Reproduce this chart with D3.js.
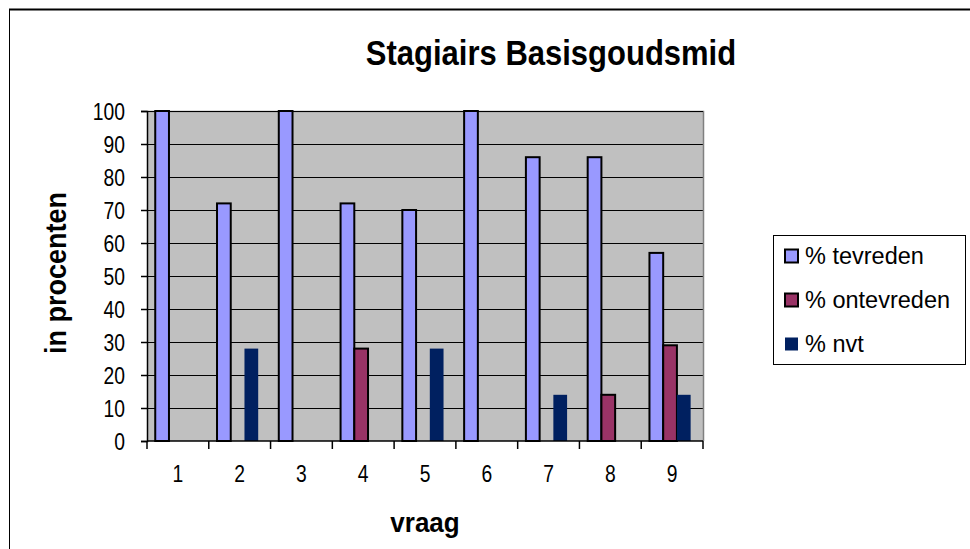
<!DOCTYPE html>
<html>
<head>
<meta charset="utf-8">
<script src="https://cdn.jsdelivr.net/npm/d3@7"></script>
<style>
  html, body { margin: 0; padding: 0; background: #fff; }
  svg { display: block; }
  text { font-family: "Liberation Sans", Arial, sans-serif; fill: #000; }
</style>
</head>
<body>
<svg id="chart" width="970" height="549"></svg>
<script>
// ---- data ----
const categories = ["1", "2", "3", "4", "5", "6", "7", "8", "9"];
const seriesNames = ["% tevreden", "% ontevreden", "% nvt"];
const tevreden   = [100, 72, 100, 72, 70, 100, 86, 86, 57];
const ontevreden = [0, 0, 0, 28, 0, 0, 0, 14, 29];
const nvt        = [0, 28, 0, 0, 28, 0, 14, 0, 14];
const yTicks = [0, 10, 20, 30, 40, 50, 60, 70, 80, 90, 100];
const titleText = "Stagiairs Basisgoudsmid";
const xTitle = "vraag";
const yTitle = "in procenten";

const seriesValues = [tevreden, ontevreden, nvt];
const colors = ["#9999FF", "#993366", "#002060"];
const strokes = ["#000", "#000", "none"];

const svg = d3.select("#chart");

// outer chart border
svg.append("rect").attr("x", 9.5).attr("y", 9.5).attr("width", 1000).attr("height", 1000)
  .attr("fill", "#fff").attr("stroke", "#000").attr("stroke-width", 1);
svg.append("line").attr("x1", 9).attr("x2", 970).attr("y1", 9.5).attr("y2", 9.5)
  .attr("stroke", "#000").attr("stroke-width", 2);

const pL = 147, pR = 703, pT = 111, pB = 441;
const tickSX = 0.84;

const x0 = d3.scaleBand().domain(categories).range([pL, pR])
  .paddingInner(1 / 3).paddingOuter(1 / 6).align(0.4);
const x1 = d3.scaleBand().domain(d3.range(seriesNames.length)).range([0, x0.bandwidth()]);
const y = d3.scaleLinear().domain([0, 100]).range([pB, pT]);

// plot background
svg.append("rect").attr("x", pL).attr("y", pT).attr("width", pR - pL).attr("height", pB - pT)
  .attr("fill", "#C0C0C0");

// gridlines
svg.append("g").selectAll("line").data(yTicks.filter(d => d > 0 && d < 100)).join("line")
  .attr("x1", pL).attr("x2", pR)
  .attr("y1", d => Math.round(y(d)) + 0.5).attr("y2", d => Math.round(y(d)) + 0.5)
  .attr("stroke", "#000").attr("stroke-width", 1);

// plot border top/right (gray)
svg.append("path")
  .attr("d", `M${pL},${pT + 0.5}H${pR + 0.5}V${pB}`)
  .attr("fill", "none").attr("stroke", "#808080").attr("stroke-width", 1.5);
svg.append("line").attr("x1", pL).attr("x2", pR).attr("y1", pT + 0.5).attr("y2", pT + 0.5)
  .attr("stroke", "#000").attr("stroke-width", 1);

// bars
const groups = svg.append("g").selectAll("g").data(categories).join("g")
  .attr("transform", d => `translate(${x0(d)},0)`);
groups.selectAll("rect")
  .data((d, i) => seriesValues.map((vals, s) => ({ s, v: vals[i] })).filter(o => o.v > 0))
  .join("rect")
  .attr("x", o => x1(o.s))
  .attr("width", x1.bandwidth())
  .attr("y", o => y(o.v))
  .attr("height", o => y(0) - y(o.v))
  .attr("fill", o => colors[o.s])
  .attr("stroke", o => strokes[o.s])
  .attr("stroke-width", 2);

// y axis
const yAxis = d3.axisLeft(y).tickValues(yTicks).tickSize(6).tickFormat(d3.format("d"));
const gy = svg.append("g").attr("transform", `translate(${pL},0)`).call(yAxis);
gy.select(".domain").attr("stroke", "#000").attr("stroke-width", 1.5);
gy.selectAll(".tick line").attr("stroke", "#000").attr("stroke-width", 1.5);
gy.selectAll(".tick text")
  .attr("font-size", 23)
  .attr("font-family", "Liberation Sans, Arial, sans-serif")
  .attr("x", -22 / tickSX)
  .attr("dy", "0.36em")
  .attr("transform", `scale(${tickSX},1)`);

// x axis
const xBound = d3.scaleLinear().domain([0, categories.length]).range([pL, pR]);
const gx = svg.append("g").attr("transform", `translate(0,${pB})`);
gx.append("line").attr("x1", pL).attr("x2", pR).attr("y1", 0).attr("y2", 0)
  .attr("stroke", "#000").attr("stroke-width", 1.5);
gx.selectAll("line.tk").data(d3.range(categories.length + 1)).join("line").attr("class", "tk")
  .attr("x1", d => xBound(d)).attr("x2", d => xBound(d)).attr("y1", 0).attr("y2", 8)
  .attr("stroke", "#000").attr("stroke-width", 1.5);
gx.selectAll("text").data(categories).join("text")
  .attr("transform", d => `translate(${xBound(categories.indexOf(d) + 0.5)},41) scale(${tickSX},1)`)
  .attr("text-anchor", "middle")
  .attr("font-size", 23)
  .text(d => d);

// titles
svg.append("text").attr("transform", "translate(551,65) scale(1,1.12)").attr("text-anchor", "middle")
  .attr("font-size", 31).attr("font-weight", "bold").text(titleText);
svg.append("text").attr("transform", "translate(425,532) scale(1,1.08)").attr("text-anchor", "middle")
  .attr("font-size", 26).attr("font-weight", "bold").text(xTitle);
svg.append("text").attr("transform", "translate(66,273) rotate(-90) scale(1.04,1.1)").attr("text-anchor", "middle")
  .attr("font-size", 26).attr("font-weight", "bold").text(yTitle);

// legend
const lg = svg.append("g");
lg.append("rect").attr("x", 773.5).attr("y", 235.5).attr("width", 192).attr("height", 129)
  .attr("fill", "#fff").attr("stroke", "#000").attr("stroke-width", 1);
const itemY = [256, 300, 344];
const items = lg.selectAll("g.item").data(seriesNames).join("g").attr("class", "item")
  .attr("transform", (d, i) => `translate(785,${itemY[i]})`);
items.append("rect").attr("x", 0).attr("y", -6.5).attr("width", 13).attr("height", 13)
  .attr("fill", (d, i) => colors[i])
  .attr("stroke", (d, i) => strokes[i]).attr("stroke-width", 2);
items.append("text").attr("x", 20).attr("y", 0).attr("dy", "0.36em")
  .attr("font-size", 23.5).text(d => d);
</script>
</body>
</html>
